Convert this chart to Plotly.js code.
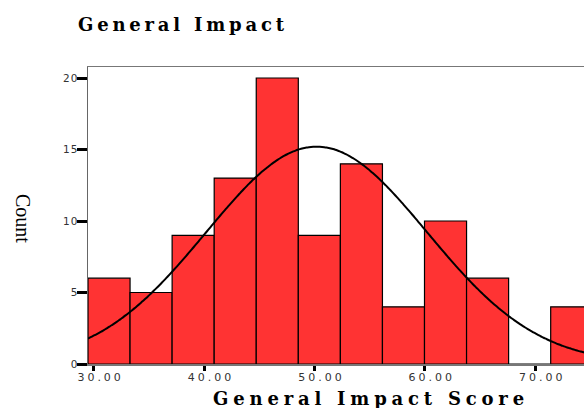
<!DOCTYPE html>
<html>
<head>
<meta charset="utf-8">
<script src="https://cdn.plot.ly/plotly-3.0.1.min.js"></script>
<style>
  html, body { margin: 0; padding: 0; overflow: hidden; background: #fff; }
  #chart { width: 680px; height: 409px; }
  .xtick text { letter-spacing: 3px; }
  .ytick text { letter-spacing: 1px; }
  .gtitle { letter-spacing: 3.8px; }
  .xtitle { letter-spacing: 4.8px; }
</style>
</head>
<body>
<div id="chart"></div>
<script>
// Data
const binStart = 29.49;
const binWidth = 3.81;
const counts = [6, 5, 9, 13, 20, 9, 14, 4, 10, 6, 0, 4];
const yTicks = [0, 5, 10, 15, 20];
const xTicks = [30, 40, 50, 60, 70];
const xTickLabels = ["30.00", "40.00", "50.00", "60.00", "70.00"];
// Fitted normal curve parameters
const nTotal = 100;
const curveMean = 50.2;
const curveSd = 10.0;

const centers = counts.map((c, i) => binStart + binWidth * (i + 0.5));

const curveX = [];
const curveY = [];
for (let x = binStart; x <= 81; x += 0.2) {
  const z = (x - curveMean) / curveSd;
  curveX.push(x);
  curveY.push(nTotal * binWidth / (curveSd * Math.sqrt(2 * Math.PI)) * Math.exp(-0.5 * z * z));
}

const traces = [
  {
    type: 'bar',
    x: centers,
    y: counts,
    width: binWidth,
    marker: { color: '#FF3333', line: { color: '#000000', width: 1.2 } },
    hoverinfo: 'skip'
  },
  {
    type: 'scatter',
    mode: 'lines',
    x: curveX,
    y: curveY,
    line: { color: '#000000', width: 2, shape: 'spline' },
    hoverinfo: 'skip'
  }
];

const layout = {
  width: 680,
  height: 409,
  margin: { l: 88, r: 26, t: 67, b: 45 },
  paper_bgcolor: '#ffffff',
  plot_bgcolor: '#ffffff',
  showlegend: false,
  bargap: 0,
  title: {
    text: 'General Impact',
    font: { family: 'DejaVu Serif', size: 18, color: '#000000', weight: 'bold' },
    xref: 'container', x: 78 / 680, xanchor: 'left',
    yref: 'container', y: 1 - 25 / 409, yanchor: 'middle'
  },
  xaxis: {
    range: [binStart, binStart + 566 / 11.04],
    tickvals: xTicks,
    ticktext: xTickLabels,
    ticks: 'outside',
    ticklen: 5,
    tickwidth: 3,
    tickcolor: '#000000',
    tickfont: { family: 'DejaVu Sans', size: 11, color: '#333333' },
    ticklabelshift: 7,
    ticklabelstandoff: -3,
    showgrid: false,
    zeroline: false,
    showline: true,
    mirror: true,
    linecolor: '#777777',
    linewidth: 1.5,
    title: {
      text: 'General Impact Score',
      font: { family: 'DejaVu Serif', size: 18, color: '#000000', weight: 'bold' },
      standoff: 14
    }
  },
  yaxis: {
    range: [0, 20.77],
    tickvals: yTicks,
    ticks: 'outside',
    ticklen: 10,
    tickwidth: 3,
    tickcolor: '#000000',
    tickfont: { family: 'DejaVu Sans', size: 10.5, color: '#333333' },
    ticklabelstandoff: -4,
    showgrid: false,
    zeroline: false,
    showline: true,
    mirror: true,
    linecolor: '#666666',
    linewidth: 1.5
  },
  annotations: [
    {
      text: 'Count',
      textangle: 90,
      xref: 'paper', yref: 'paper',
      x: (23 - 88) / 566, y: (364 - 218) / 297,
      xanchor: 'center', yanchor: 'middle',
      showarrow: false,
      font: { family: 'Liberation Serif', size: 20, color: '#000000' }
    }
  ]
};

Plotly.newPlot('chart', traces, layout, { displayModeBar: false, staticPlot: true });
</script>
</body>
</html>
